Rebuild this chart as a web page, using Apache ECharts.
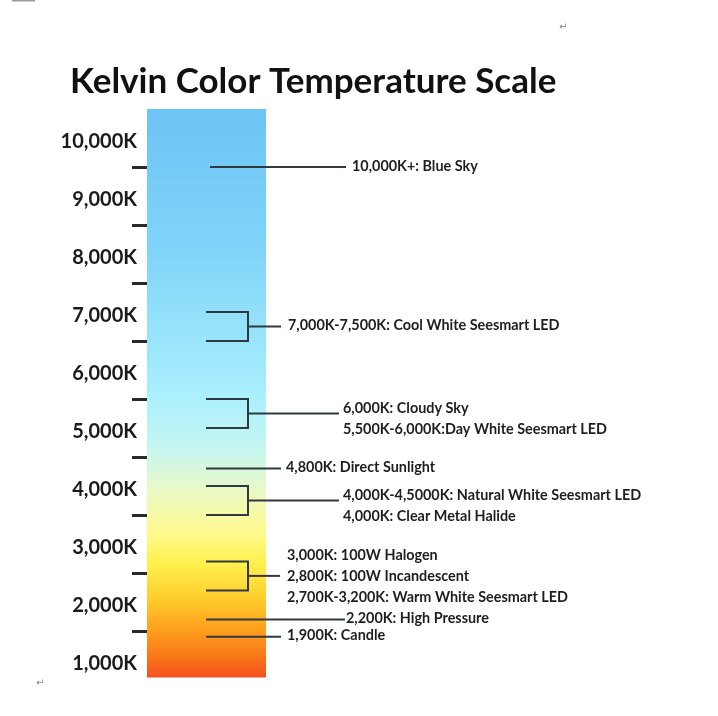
<!DOCTYPE html>
<html>
<head>
<meta charset="utf-8">
<script src="https://cdn.jsdelivr.net/npm/echarts@6/dist/echarts.min.js"></script>
<style>
html,body{margin:0;padding:0;background:#fff;}
#chart{width:718px;height:716px;}
</style>
</head>
<body>
<div id="chart"></div>
<script>
// ---------- data ----------
const titleText = "Kelvin Color Temperature Scale";
const tickValues = [2000, 3000, 4000, 5000, 6000, 7000, 8000, 9000, 10000];
const tickLabelValues = [1000, 2000, 3000, 4000, 5000, 6000, 7000, 8000, 9000, 10000];
const tickLabels = ["1,000K", "2,000K", "3,000K", "4,000K", "5,000K", "6,000K", "7,000K", "8,000K", "9,000K", "10,000K"];
const scaleRange = [1200, 11000];
const annotLow  = [10000, 7000, 5500, 4800, 4000, 2700, 2200, 1900];
const annotHigh = [10000, 7500, 6000, 4800, 4500, 3200, 2200, 1900];
const annotText = [
  ["10,000K+: Blue Sky"],
  ["7,000K-7,500K: Cool White Seesmart LED"],
  ["6,000K: Cloudy Sky", "5,500K-6,000K:Day White Seesmart LED"],
  ["4,800K: Direct Sunlight"],
  ["4,000K-4,5000K: Natural White Seesmart LED", "4,000K: Clear Metal Halide"],
  ["3,000K: 100W Halogen", "2,800K: 100W Incandescent", "2,700K-3,200K: Warm White Seesmart LED"],
  ["2,200K: High Pressure"],
  ["1,900K: Candle"]
];

// ---------- layout / style ----------
const LABEL_SHIFT = 440;          // axis labels sit above their tick marks
const connectorEnd = [199, 134, 192, 134, 192, 133, 198, 134]; // px right of bar's left edge
const textGap =      [6,   7,   4,   5,   4,   7,   1,   6];
const FONT = "Lato, 'Open Sans', sans-serif";
const LINE_COLOR = "#2f3a40";

const chart = echarts.init(document.getElementById('chart'), null, {renderer: 'canvas'});

const annotData = annotLow.map((lo, i) => [lo, annotHigh[i], i]);

const option = {
  backgroundColor: '#ffffff',
  animation: false,
  grid: {left: 147, width: 119, top: 109, bottom: 27},
  xAxis: {type: 'value', min: 0, max: 1, show: false},
  yAxis: {
    type: 'value', min: 1000, max: 11000, interval: 1000,
    axisLine: {show: false},
    splitLine: {show: false},
    axisTick: {show: true, customValues: tickValues, length: 15, lineStyle: {color: '#2a2a2a', width: 3}},
    axisLabel: {
      customValues: tickLabelValues.map(v => v + LABEL_SHIFT),
      margin: 10,
      color: '#1a1a1a', fontFamily: FONT, fontWeight: 'bold', fontSize: 20,
      formatter: function (val) {
        const idx = tickLabelValues.indexOf(Math.round(val - LABEL_SHIFT));
        return idx >= 0 ? tickLabels[idx] : '';
      }
    }
  },
  graphic: [
    {type: 'text', left: 70, top: 64, style: {text: titleText, fill: '#111', font: "bold 35px " + FONT}},
    {type: 'rect', shape: {x: 12, y: 0, width: 23, height: 1.5}, style: {fill: '#999'}},
    {type: 'text', x: 559, y: 22, style: {text: '\u21b5', fill: '#888', font: "10px 'DejaVu Sans'"}},
    {type: 'text', x: 36, y: 678, style: {text: '\u21b5', fill: '#888', font: "10px 'DejaVu Sans'"}}
  ],
  series: [
    {
      type: 'custom',
      clip: false,
      data: [[scaleRange[0], scaleRange[1]]],
      renderItem: function (params, api) {
        const cs = params.coordSys;
        const yTop = api.coord([0, api.value(1)])[1];
        const yBot = api.coord([0, api.value(0)])[1];
        return {
          type: 'rect',
          shape: {x: cs.x, y: yTop, width: cs.width, height: yBot - yTop},
          style: {
            fill: new echarts.graphic.LinearGradient(0, 0, 0, 1, [
              {offset: 0.00, color: '#6bc4f5'},
              {offset: 0.25, color: '#80d4f8'},
              {offset: 0.50, color: '#a9effe'},
              {offset: 0.60, color: '#c6f7f0'},
              {offset: 0.68, color: '#eef9c0'},
              {offset: 0.75, color: '#fff98a'},
              {offset: 0.80, color: '#fff04c'},
              {offset: 0.86, color: '#ffce2e'},
              {offset: 0.91, color: '#ffa41e'},
              {offset: 0.96, color: '#fa7a18'},
              {offset: 1.00, color: '#f4501e'}
            ])
          }
        };
      }
    },
    {
      type: 'custom',
      clip: false,
      data: annotData,
      renderItem: function (params, api) {
        const cs = params.coordSys;
        const lo = api.value(0), hi = api.value(1), idx = api.value(2);
        const yLo = api.coord([0, lo])[1];
        const yHi = api.coord([0, hi])[1];
        const x0 = cs.x;
        const isRange = hi !== lo;
        const startX = x0 + (idx === 0 ? 63 : 59);
        const bracketX = x0 + 101;
        const endX = x0 + connectorEnd[idx];
        const midY = (yLo + yHi) / 2;
        const children = [];
        const ls = {stroke: LINE_COLOR, lineWidth: 2, fill: null};
        if (isRange) {
          children.push({type: 'polyline', shape: {points: [[startX, yHi], [bracketX, yHi], [bracketX, yLo], [startX, yLo]]}, style: ls});
          children.push({type: 'line', shape: {x1: bracketX, y1: midY, x2: endX, y2: midY}, style: ls});
        } else {
          children.push({type: 'line', shape: {x1: startX, y1: midY, x2: endX, y2: midY}, style: ls});
        }
        const lines = annotText[idx];
        const lh = 21;
        const textX = endX + textGap[idx];
        const shift = lines.length === 2 ? 5 : (lines.length === 1 ? -1 : 0);
        lines.forEach((t, k) => {
          children.push({
            type: 'text',
            style: {
              text: t, x: textX, y: midY + shift + (k - (lines.length - 1) / 2) * lh,
              fill: '#1e1e1e', fontFamily: FONT, fontWeight: 'bold', fontSize: 14.4,
              verticalAlign: 'middle', align: 'left'
            }
          });
        });
        return {type: 'group', children: children};
      }
    }
  ]
};
chart.setOption(option);
</script>
</body>
</html>
